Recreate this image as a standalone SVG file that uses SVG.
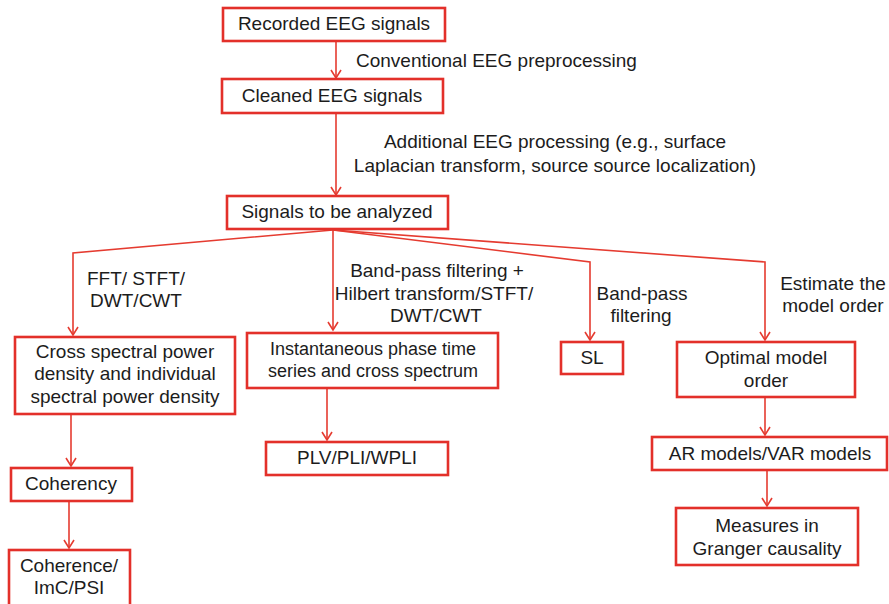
<svg xmlns="http://www.w3.org/2000/svg" width="889" height="604" viewBox="0 0 889 604">
<defs>
<marker id="ah" markerWidth="12" markerHeight="12" refX="10" refY="6" orient="auto" markerUnits="userSpaceOnUse">
<path d="M2,1 L10,6 L2,11" fill="none" stroke="#e53b30" stroke-width="1.6"/>
</marker>
<style>
.box{fill:#fff;stroke:#e3302a;stroke-width:2.6}
.t{font-family:"Liberation Sans",Arial,sans-serif;font-size:19px;fill:#1c1c1c;text-anchor:middle}
.s{font-size:18px}
.c{fill:none;stroke:#e53b30;stroke-width:1.6;marker-end:url(#ah)}
</style>
</defs>
<rect width="889" height="604" fill="#fff"/>
<g id="connectors">
<path class="c" d="M336,42 L336,78"/>
<path class="c" d="M336,114 L336,195"/>
<path class="c" d="M333,230 L73,253 L73,335"/>
<path class="c" d="M333,230 L333,330"/>
<path class="c" d="M333,230 L590,262 L590,340"/>
<path class="c" d="M333,230 L765,262 L765,340"/>
<path class="c" d="M327,389 L327,440"/>
<path class="c" d="M71,415 L71,466"/>
<path class="c" d="M69,502 L69,548"/>
<path class="c" d="M765,398 L765,435"/>
<path class="c" d="M767,471 L767,506"/>
</g>
<g id="labels">
<text class="t" x="356" y="67" style="text-anchor:start">Conventional EEG preprocessing</text>
<text class="t" x="555" y="148">Additional EEG processing (e.g., surface</text>
<text class="t" x="555" y="172">Laplacian transform, source source localization)</text>
<text class="t" x="136" y="285">FFT/ STFT/</text>
<text class="t" x="136" y="307">DWT/CWT</text>
<text class="t" x="437" y="277">Band-pass filtering +</text>
<text class="t" x="434" y="300">Hilbert transform/STFT/</text>
<text class="t" x="436" y="322">DWT/CWT</text>
<text class="t" x="642" y="300">Band-pass</text>
<text class="t" x="641" y="322">filtering</text>
<text class="t" x="833" y="290">Estimate the</text>
<text class="t" x="833" y="312">model order</text>
</g>
<g id="recorded"><rect class="box" x="223" y="8" width="222" height="33"/><text class="t" x="334" y="30">Recorded EEG signals</text></g>
<g id="cleaned"><rect class="box" x="222" y="79" width="221" height="34"/><text class="t" x="332" y="102">Cleaned EEG signals</text></g>
<g id="signals"><rect class="box" x="227" y="196" width="221" height="33"/><text class="t" x="337" y="218">Signals to be analyzed</text></g>
<g id="cross"><rect class="box" x="15" y="337" width="220" height="77"/><text class="t" x="125" y="358">Cross spectral power</text><text class="t" x="125" y="380">density and individual</text><text class="t" x="125" y="403">spectral power density</text></g>
<g id="inst"><rect class="box" x="247" y="333" width="251" height="55"/><text class="t s" x="373" y="355">Instantaneous phase time</text><text class="t s" x="373" y="377">series and cross spectrum</text></g>
<g id="sl"><rect class="box" x="561" y="342" width="62" height="32"/><text class="t" x="592" y="364">SL</text></g>
<g id="optimal"><rect class="box" x="677" y="342" width="178" height="55"/><text class="t" x="766" y="364">Optimal model</text><text class="t" x="766" y="387">order</text></g>
<g id="plv"><rect class="box" x="266" y="442" width="182" height="33"/><text class="t" x="357" y="464">PLV/PLI/WPLI</text></g>
<g id="coherency"><rect class="box" x="11" y="468" width="121" height="33"/><text class="t" x="71" y="490">Coherency</text></g>
<g id="coherence"><rect class="box" x="9" y="550" width="121" height="60"/><text class="t" x="69" y="572">Coherence/</text><text class="t" x="69" y="594">ImC/PSI</text></g>
<g id="ar"><rect class="box" x="652" y="437" width="235" height="33"/><text class="t" x="770" y="460">AR models/VAR models</text></g>
<g id="measures"><rect class="box" x="676" y="508" width="182" height="57"/><text class="t" x="767" y="532">Measures in</text><text class="t" x="767" y="555">Granger causality</text></g>
</svg>
